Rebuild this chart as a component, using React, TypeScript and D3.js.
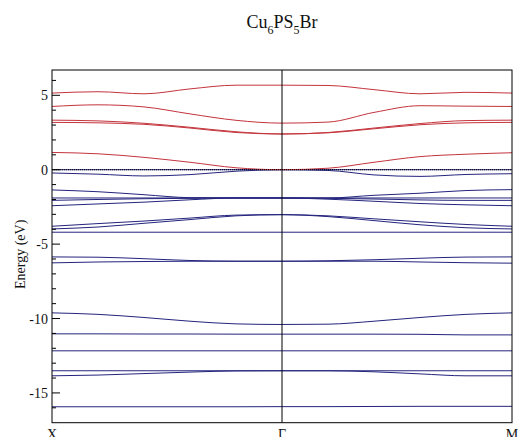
import React from "react";
import * as d3 from "d3";

// k-path positions (fraction of path X -> Γ -> M)
const kPoints = [0, 0.1, 0.2, 0.3, 0.4, 0.5, 0.6, 0.7, 0.8, 0.9, 1.0];
const kLabels = [
  { k: 0, label: "X" },
  { k: 0.5, label: "Γ" },
  { k: 1, label: "M" },
];
const yTicksMajor = [-15, -10, -5, 0, 5];
const yTicksMinor = [-16, -14, -13, -12, -11, -9, -8, -7, -6, -4, -3, -2, -1, 1, 2, 3, 4, 6];

// conduction bands (red)
const condR1 = [5.15, 5.24, 5.1, 5.43, 5.68, 5.68, 5.66, 5.38, 5.1, 5.2, 5.15];
const condR2 = [4.25, 4.36, 4.22, 3.75, 3.32, 3.13, 3.2, 3.85, 4.3, 4.27, 4.25];
const condR3a = [3.33, 3.28, 3.12, 2.85, 2.55, 2.4, 2.5, 2.8, 3.1, 3.3, 3.33];
const condR3b = [3.18, 3.15, 3.05, 2.8, 2.5, 2.4, 2.48, 2.75, 3.02, 3.15, 3.18];
const condR4 = [1.16, 1.07, 0.83, 0.5, 0.13, 0.0, 0.1, 0.5, 0.88, 1.04, 1.14];

// valence bands (blue)
const valB1 = [0, 0, 0, 0, 0, 0, 0, 0, 0, 0, 0];
const valB2 = [-0.22, -0.3, -0.42, -0.33, -0.1, 0.0, -0.05, -0.35, -0.45, -0.32, -0.27];
const valB3 = [-1.36, -1.48, -1.68, -1.88, -1.9, -1.9, -1.9, -1.72, -1.58, -1.4, -1.34];
const valB4 = [-1.9, -1.9, -1.9, -1.9, -1.9, -1.9, -1.9, -1.9, -1.9, -1.9, -1.9];
const valB5 = [-2.06, -2.0, -1.95, -1.92, -1.9, -1.9, -1.92, -1.97, -2.03, -2.06, -2.06];
const valB6 = [-2.42, -2.3, -2.18, -2.02, -1.9, -1.9, -1.98, -2.12, -2.27, -2.36, -2.42];
const valB7 = [-3.8, -3.62, -3.45, -3.25, -3.05, -3.02, -3.1, -3.3, -3.5, -3.68, -3.8];
const valB8 = [-3.98, -3.85, -3.6, -3.35, -3.1, -3.02, -3.15, -3.42, -3.7, -3.9, -3.98];
const valB9 = [-4.2, -4.2, -4.2, -4.2, -4.2, -4.2, -4.2, -4.2, -4.2, -4.2, -4.2];
const valB10 = [-5.86, -5.88, -5.98, -6.1, -6.15, -6.15, -6.12, -6.05, -5.95, -5.87, -5.86];
const valB11 = [-6.26, -6.2, -6.17, -6.15, -6.15, -6.15, -6.15, -6.15, -6.2, -6.25, -6.28];
const valB12 = [-9.62, -9.72, -9.93, -10.18, -10.36, -10.4, -10.38, -10.18, -9.93, -9.72, -9.62];
const valB13 = [-11.03, -11.03, -11.04, -11.04, -11.05, -11.05, -11.05, -11.05, -11.06, -11.1, -11.1];
const valB14 = [-12.17, -12.17, -12.17, -12.17, -12.17, -12.17, -12.17, -12.17, -12.17, -12.17, -12.17];
const valB15 = [-13.51, -13.51, -13.51, -13.51, -13.51, -13.51, -13.51, -13.51, -13.51, -13.51, -13.51];
const valB16 = [-13.85, -13.8, -13.7, -13.6, -13.52, -13.51, -13.51, -13.58, -13.72, -13.85, -13.85];
const valB17 = [-15.93, -15.93, -15.93, -15.93, -15.93, -15.92, -15.92, -15.91, -15.9, -15.9, -15.9];

const conduction = [condR1, condR2, condR3a, condR3b, condR4];
const valence = [valB1, valB2, valB3, valB4, valB5, valB6, valB7, valB8, valB9, valB10, valB11, valB12, valB13, valB14, valB15, valB16, valB17];

const W = 518;
const H = 437;
const M = { left: 52, right: 6, top: 70, bottom: 14.3 };
const RED = "#c4343c";
const BLUE = "#24247e";
const FONT = "Liberation Serif, Times New Roman, DejaVu Serif, serif";
const txt = { fontFamily: FONT };

export default function App() {
  const x = d3.scaleLinear().domain([0, 1]).range([M.left, W - M.right]);
  const y = d3.scaleLinear().domain([-17, 6.7]).range([H - M.bottom, M.top]);
  const line = d3
    .line<number>()
    .x((_, i) => x(kPoints[i]))
    .y((d) => y(d))
    .curve(d3.curveMonotoneX);

  const x0 = M.left;
  const x1 = W - M.right;
  const yTop = M.top;
  const yBot = H - M.bottom;

  return (
    <svg width={W} height={H} style={{ position: "absolute", left: 0, top: 0, background: "#fff" }}>
      <rect x={0} y={0} width={W} height={H} fill="#fff" />
      <text x={282} y={28} textAnchor="middle" style={txt} fontSize={18} fill="#111">
        Cu<tspan fontSize={12} dy={6}>6</tspan>
        <tspan dy={-6}>PS</tspan>
        <tspan fontSize={12} dy={6}>5</tspan>
        <tspan dy={-6}>Br</tspan>
      </text>

      {valence.map((b, i) => (
        <path key={"v" + i} d={line(b) || ""} fill="none" stroke={BLUE} strokeWidth={1} />
      ))}
      {conduction.map((b, i) => (
        <path key={"c" + i} d={line(b) || ""} fill="none" stroke={RED} strokeWidth={1} />
      ))}

      <line x1={x0} x2={x1} y1={y(0)} y2={y(0)} stroke="#000" strokeWidth={1} strokeDasharray="1,1" />

      <line x1={x(0.5)} x2={x(0.5)} y1={yTop} y2={yBot} stroke="#000" strokeWidth={1} />
      <rect x={x0} y={yTop} width={x1 - x0} height={yBot - yTop} fill="none" stroke="#000" strokeWidth={1} />

      {yTicksMajor.map((t) => (
        <g key={"M" + t}>
          <line x1={x0} x2={x0 + 8} y1={y(t)} y2={y(t)} stroke="#000" strokeWidth={1} />
          <text x={48} y={y(t) + 5} textAnchor="end" style={txt} fontSize={14} fill="#111">
            {t}
          </text>
        </g>
      ))}
      {yTicksMinor.map((t) => (
        <line key={"m" + t} x1={x0} x2={x0 + 4} y1={y(t)} y2={y(t)} stroke="#000" strokeWidth={1} />
      ))}

      <text
        transform={`translate(25,${(yTop + yBot) / 2 + 8}) rotate(-90)`}
        textAnchor="middle"
        style={txt}
        fontSize={14}
        fill="#111"
      >
        Energy (eV)
      </text>

      {kLabels.map((l) => (
        <text key={l.label} x={x(l.k)} y={439} textAnchor="middle" style={txt} fontSize={14} fill="#111">
          {l.label}
        </text>
      ))}
    </svg>
  );
}
